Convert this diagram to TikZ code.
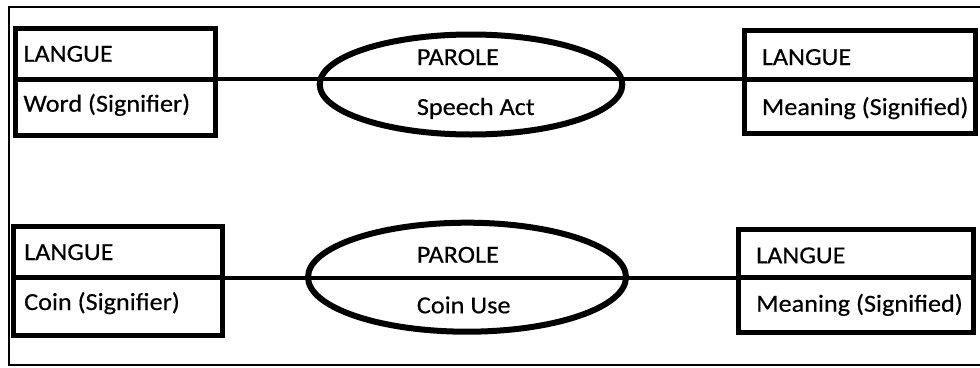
\documentclass[tikz,border=0pt]{standalone}
\usepackage{fontspec}
\setmainfont{Carlito}[FakeStretch=1.07,FakeBold=0.4]
\usetikzlibrary{shapes.geometric}
\begin{document}
\begin{tikzpicture}[x=1pt,y=-1pt,
  box/.style={draw,line width=5pt,minimum width=#1,inner sep=0pt,anchor=center},
  parole/.style={draw,ellipse,line width=6pt,inner sep=0pt},
  divider/.style={line width=5pt},
  link/.style={line width=4pt},
  lbl/.style={anchor=base west,inner sep=0pt,font=\fontsize{24.5}{29}\selectfont},
  frame/.style={line width=2pt}]
\useasboundingbox (0,0) rectangle (980,367);
% outer frame (open on the right)
\draw[frame] (985,7) -- (9,7) -- (9,365) -- (985,365);

% ---- first row: word / speech act / meaning
\node[box=200pt,minimum height=107.5pt] (tl) at (115.7,82) {};
\node[parole,minimum width=302.6pt,minimum height=100pt] (te) at (471,84.5) {};
\node[box=231.5pt,minimum height=103.5pt] (tr) at (860,82.2) {};
\coordinate (tmid) at (0,79);
\draw[divider] (tl.west |- tmid) -- (tl.east |- tmid);
\draw[divider] (tr.west |- tmid) -- (tr.east |- tmid);
\draw[link] (tl.east |- tmid) -- (tr.west |- tmid);
\node[lbl] (tl1) at (23.3,61.7) {LANGUE};
\node[lbl] (tl2) at (23.3,111.7) {Word (Signifier)};
\node[lbl] (te1) at (416.7,65) {PAROLE};
\node[lbl] (te2) at (416.7,115) {Speech Act};
\node[lbl] (tr1) at (761.7,65) {LANGUE};
\node[lbl] (tr2) at (761.7,115) {Meaning (Signified)};

% ---- second row: coin / coin use / meaning
\node[box=208.7pt,minimum height=109pt] (bl) at (118.2,281) {};
\node[parole,minimum width=318pt,minimum height=109pt] (be) at (467,277.2) {};
\node[box=235pt,minimum height=103pt] (br) at (856,281.2) {};
\coordinate (bmid) at (0,277.7);
\draw[divider] (bl.west |- bmid) -- (bl.east |- bmid);
\draw[divider] (br.west |- bmid) -- (br.east |- bmid);
\draw[link] (bl.east |- bmid) -- (br.west |- bmid);
\node[lbl] (bl1) at (24,260) {LANGUE};
\node[lbl] (bl2) at (24,310) {Coin (Signifier)};
\node[lbl] (be1) at (416.7,262.7) {PAROLE};
\node[lbl] (be2) at (416.7,313.3) {Coin Use};
\node[lbl] (br1) at (756,263.3) {LANGUE};
\node[lbl] (br2) at (756,311.7) {Meaning (Signified)};
\end{tikzpicture}
\end{document}
